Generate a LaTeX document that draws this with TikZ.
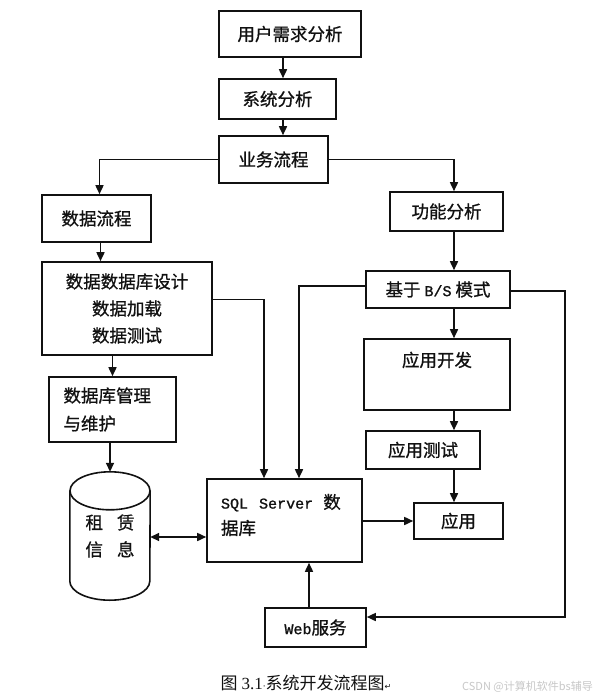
\documentclass[tikz,border=0pt]{standalone}
\usepackage{fontspec}
\setmainfont{Noto Sans CJK SC}[RawFeature={embolden=0.9}]
\newfontfamily\mono{Liberation Mono}[Scale=0.86, RawFeature={embolden=1.2}]
\newfontfamily\capnum{Liberation Serif}
\newfontfamily\capfont{Noto Sans CJK SC}
\newfontfamily\symfont{DejaVu Sans}
\usetikzlibrary{arrows.meta,calc}
\definecolor{ink}{HTML}{111111}
\definecolor{mark}{HTML}{C8C8C8}
\newcommand{\BoxText}{\fontsize{17.5}{21}\selectfont}
\tikzset{
  every node/.style={font=\BoxText, text=ink},
  stage/.style 2 args={
    rectangle, draw=ink, line width=1.6pt, inner sep=0pt,
    minimum width=#1, minimum height=#2
  },
  flowto/.style={draw=ink, line width=1.6pt, -{Triangle[length=9pt,width=8pt]}},
  bothway/.style={draw=ink, line width=1.6pt,
    {Triangle[length=9pt,width=8pt]}-{Triangle[length=9pt,width=8pt]}}
}

\begin{document}
\begin{tikzpicture}[x=1pt,y=-1pt]

\path[use as bounding box, fill=white] (0,0) rectangle (593,697);

% =========================
% TOP CHAIN
% =========================
\node[stage={142}{46}] (req) at (290,34)    {用户需求分析};
\node[stage={117}{40}] (sys) at (277.5,99)  {系统分析};
\node[stage={109}{47}] (biz) at (273.5,159.5) {业务流程};

\coordinate (spine)  at (283,0);
\coordinate (rspine) at (454,0);

% =========================
% LEFT BRANCH (data)
% =========================
\node[stage={109}{47}] (flow) at (96.5,218.5) {数据流程};
\node[stage={170}{93}, align=center, font=\fontsize{17.5}{27}\selectfont]
  (design) at (127,308.5) {数据数据库设计\\数据加载\\数据测试};
\node[stage={127}{65}, align=left, text width=98, inner xsep=14.5pt,
      font=\fontsize{17.5}{28}\selectfont]
  (manage) at (112.5,409.5) {数据库管理\\与维护};
\node[minimum width=80, minimum height=128, inner sep=0pt, align=center,
      font=\fontsize{17.5}{27}\selectfont]
  (cyl) at (110,536) {租\hspace{14pt}赁\\信\hspace{14pt}息};

% cylinder outline
\draw[ink, line width=1.6pt]
  ($(cyl.north west)+(0,19)$) -- ($(cyl.south west)+(0,-19)$)
  arc[start angle=180, end angle=360, x radius=40pt, y radius=19pt]
  -- ($(cyl.north east)+(0,19)$);
\draw[ink, line width=1.6pt] ($(cyl.north)+(0,19)$) ellipse [x radius=40pt, y radius=19pt];

% =========================
% RIGHT BRANCH (application)
% =========================
\node[stage={113}{39}] (func) at (446.5,211.5) {功能分析};
\node[stage={144}{37}] (bs)   at (438,289.5)   {基于 {\mono B/S} 模式};
\node[stage={146}{71}, text height=27.6pt, text depth=43.4pt]
  (dev) at (437,374.5) {应用开发};
\node[stage={114}{38}] (test) at (423,450)     {应用测试};
\node[stage={89}{36}]  (app)  at (458.5,521)   {应用};

% =========================
% DATABASE + WEB
% =========================
\node[stage={155}{83}, align=left, text width=127, inner xsep=14pt,
      text height=29.6pt, text depth=53.4pt, font=\fontsize{17.5}{26}\selectfont]
  (sql) at (284.5,520.5)
  {{\mono SQL}\hspace{11pt}{\mono Server}\hspace{10pt}数\\据库};
\node[stage={101}{39}] (web) at (315.5,627.5) {{\mono Web}服务};

% =========================
% CONNECTORS
% =========================
\draw[flowto] (req.south -| spine) -- (sys.north -| spine);
\draw[flowto] (sys.south -| spine) -- (biz.north -| spine);
\draw[flowto] (biz.west) -| ([xshift=3pt]flow.north);
\draw[flowto] (biz.east) -| (func.north -| rspine);

\draw[flowto] ([xshift=4pt]flow.south) -- ([xshift=4pt]flow.south |- design.north);
\draw[flowto] (design.south -| manage.north) -- (manage.north);
\draw[flowto] (manage.south -| cyl.north) -- (cyl.north);
\draw[flowto] ([yshift=9pt]design.east) -| ([xshift=-20.5pt]sql.north);

\draw[flowto] (func.south -| rspine) -- (bs.north -| rspine);
\draw[flowto] ([yshift=3.5pt]bs.west) -| ([xshift=14.5pt]sql.north);
\draw[flowto] (bs.south -| rspine) -- (dev.north -| rspine);
\draw[flowto] (dev.south -| rspine) -- (test.north -| rspine);
\draw[flowto] (test.south -| rspine) -- (app.north -| rspine);

\coordinate (rail) at (565,617);
\draw[flowto] ([yshift=-1.5pt]bs.east) -| (rail) -- (web.east |- rail);

\draw[flowto] (sql.east |- app.west) -- (app.west);
\draw[bothway] (cyl.east |- 0,537) -- (sql.west |- 0,537);
\draw[flowto] ([xshift=-6.5pt]web.north) -- ([xshift=-6.5pt]web.north |- sql.south);

% caption + mark
\node[font=\capfont\fontsize{17}{20}\selectfont, anchor=west] (cap) at (217,683)
  {图\hspace{4pt}{\capnum 3.1}{\symfont\fontsize{9}{10}\selectfont·}系统开发流程图{\symfont\fontsize{8}{10}\selectfont ↵}};
\node[font=\capfont\fontsize{11}{13}\selectfont, text=mark, anchor=east, inner sep=0pt]
  (csdn) at (593,687) {CSDN @计算机软件bs辅导};

\end{tikzpicture}
\end{document}
